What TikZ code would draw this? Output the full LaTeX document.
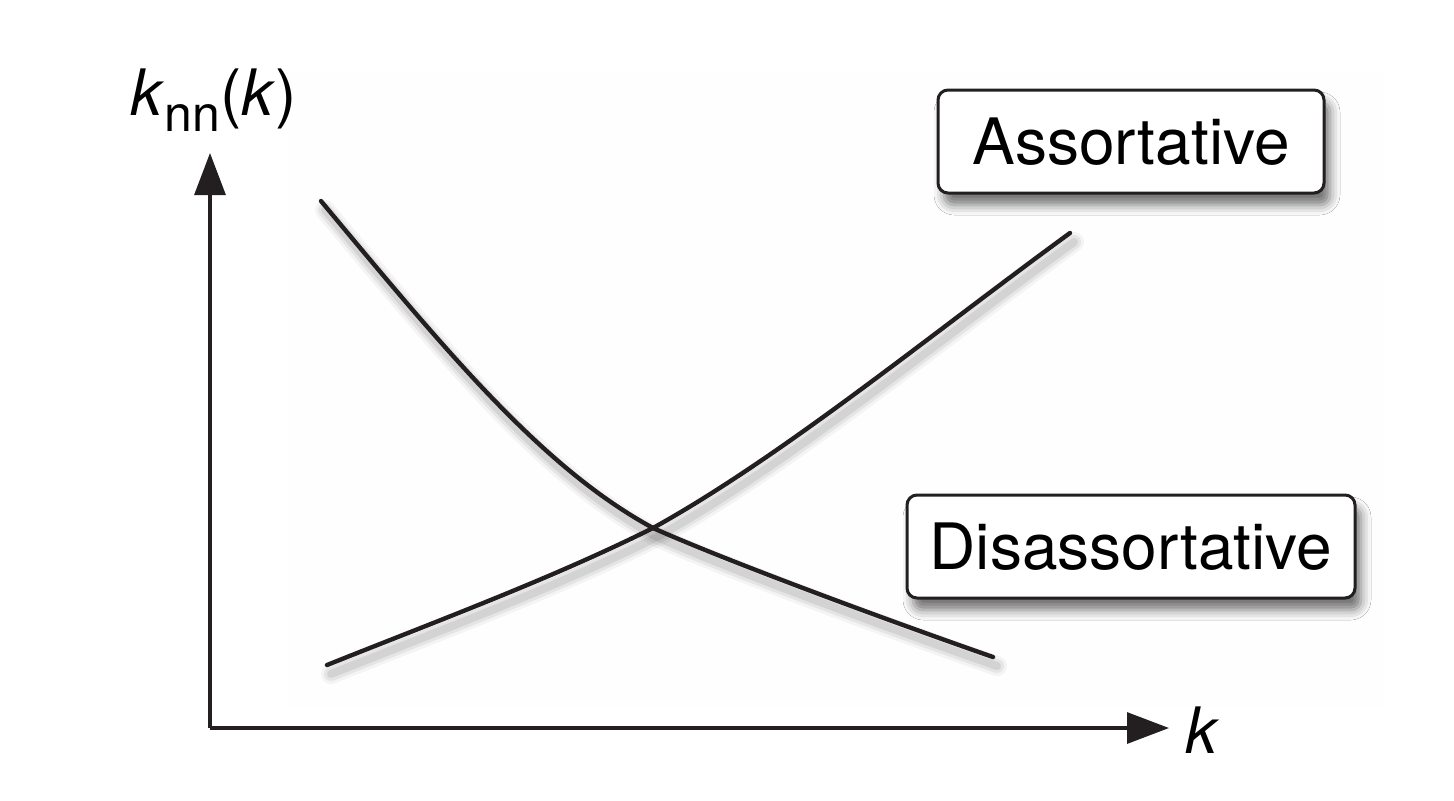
\documentclass[tikz,border=0pt]{standalone}
\usepackage{fontspec}
\setmainfont{TeX Gyre Heros}
\usetikzlibrary{arrows.meta,shadows.blur}
\definecolor{ink}{RGB}{35,31,32}
\definecolor{plotbg}{RGB}{254,254,254}

% curves k_nn(k), in picture units
\newcommand{\assortcurve}{(327,665) .. controls (437,621) and (553,578) .. (653,528) .. controls (783,456) and (930,335) .. (1070,233)}
\newcommand{\disassortcurve}{(321,201) .. controls (451,357) and (543,468) .. (653,528) .. controls (720,558) and (870,614) .. (993,657)}

\tikzset{
  axis/.style={draw=ink, line width=1.6pt, -{Triangle[length=21pt,width=15.5pt]}},
  curve/.style={draw=ink, line width=2.2pt, line cap=round},
  curveshadow/.style={draw=black, line cap=round, shift={(4,9)}},
  label/.style={font=\fontsize{32}{38}\selectfont, text=black, inner sep=0pt},
  typebox/.style={draw=ink, line width=1.5pt, fill=white, rounded corners=5pt,
    minimum height=51.5pt, font=\fontsize{32}{38}\selectfont, inner sep=0pt,
    blur shadow={shadow xshift=3pt, shadow yshift=-6pt, shadow blur radius=5pt, shadow opacity=55}}
}

\begin{document}
\begin{tikzpicture}[x=0.5pt, y=-0.5pt]
    \useasboundingbox (0,0) rectangle (1454,800);

    % faint plot background
    \fill[plotbg] (288,72) rectangle (1385,707);

    % axes
    \coordinate (O) at (210,728);
    \coordinate (ytip) at (210,153);
    \coordinate (xtip) at (1169,728);
    \draw[axis] (O) -- (ytip);
    \draw[axis] (O) -- (xtip);
    \node[label, anchor=base] (ylab) at (214,115) {\textit{k}\raisebox{-8pt}{\fontsize{25}{25}\selectfont nn}(\textit{k})};
    \node[label, anchor=base] (xlab) at (1203,753) {\textit{k}};

    % soft shadows under the curves
    \foreach \w/\o in {10/0.04, 7/0.06, 4/0.08} {
        \path[curveshadow, line width=\w pt, draw opacity=\o] \assortcurve;
        \path[curveshadow, line width=\w pt, draw opacity=\o] \disassortcurve;
    }

    % the two curves
    \draw[curve] \assortcurve;
    \draw[curve] \disassortcurve;

    % boxes
    \node[typebox, minimum width=193pt] (assort) at (1131,141.5) {Assortative};
    \node[typebox, minimum width=224pt] (disassort) at (1131,546.5) {Disassortative};
\end{tikzpicture}
\end{document}
